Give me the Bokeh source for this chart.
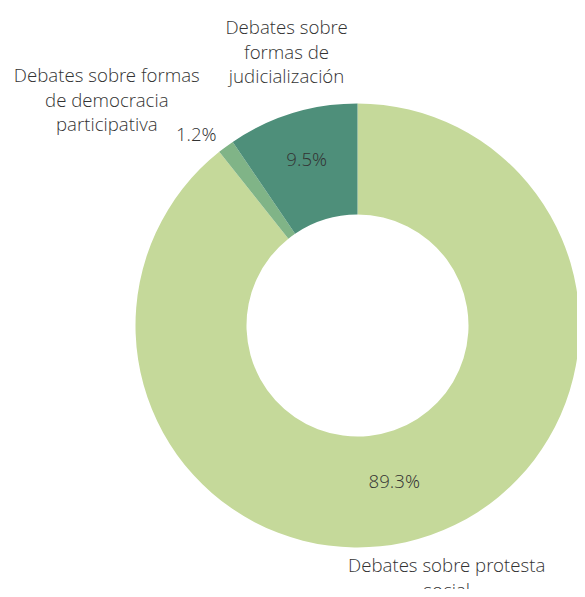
import math
from bokeh.plotting import figure
from bokeh.models import ColumnDataSource, Range1d
from bokeh.core.properties import value
from bokeh.embed import file_html
from bokeh.resources import INLINE

# ---- data ----
categories = ["Debates sobre protesta social",
              "Debates sobre formas de democracia participativa",
              "Debates sobre formas de judicialización"]
wrapped_labels = ["Debates sobre protesta\nsocial",
                  "Debates sobre formas\nde democracia\nparticipativa",
                  "Debates sobre\nformas de\njudicialización"]
shares = [89.3, 1.2, 9.5]
colors = ["#c5d99a", "#80b487", "#4e8f7a"]

# ---- layout ----
W, H = 577, 589
CX, CY = 357, 264
R_OUT, R_IN = 222, 111
FONT = value("Open Sans Light")
FS = value("18.67px")
TXT = "#333333"

total = sum(shares)
starts, ends, mids = [], [], []
a = math.pi / 2
for s in shares:
    sweep = 2 * math.pi * s / total
    starts.append(a)
    ends.append(a - sweep)
    mids.append(a - sweep / 2)
    a -= sweep

p = figure(width=W, height=H, x_range=Range1d(0, W), y_range=Range1d(0, H),
           output_backend="svg", toolbar_location=None, min_border=0)
p.axis.visible = False
p.grid.visible = False
p.outline_line_color = None
p.background_fill_color = "white"

src = ColumnDataSource(dict(start=starts, end=ends, color=colors))
p.annular_wedge(x=CX, y=CY, inner_radius=R_IN, outer_radius=R_OUT,
                start_angle="start", end_angle="end", direction="clock",
                fill_color="color", line_color=None, source=src)

# percentage labels
pct_r = [166, 250, 166]
pct_dx = [-18, -13, -2]
pct_dy = [2, -9, 8]
px, py, pt = [], [], []
for i, s in enumerate(shares):
    px.append(CX + pct_r[i] * math.cos(mids[i]) + pct_dx[i])
    py.append(CY + pct_r[i] * math.sin(mids[i]) + pct_dy[i])
    pt.append(f"{s:.1f}%")
p.text(x=px, y=py, text=pt, text_font=FONT, text_font_size=FS,
       text_color=TXT, text_align="center", text_baseline="middle")

# category labels
cat_r = [240, 314, 248]
cat_rot = [0, 0.29, 0.0]
cat_dx = [10, 0, 2]
cat_base = ["top", "bottom", "bottom"]
for i, lab in enumerate(wrapped_labels):
    ang = mids[i] + cat_rot[i]
    x = CX + cat_r[i] * math.cos(ang) + cat_dx[i]
    y = CY + cat_r[i] * math.sin(ang)
    p.text(x=[x], y=[y], text=[lab], text_font=FONT, text_font_size=FS,
           text_color=TXT, text_align="center", text_baseline=cat_base[i],
           text_line_height=0.98)

open("out.html", "w").write(file_html(p, INLINE))
